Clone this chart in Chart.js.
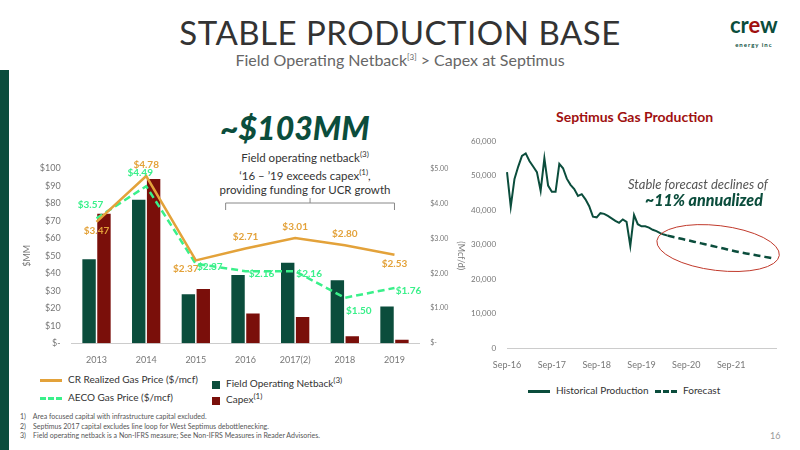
<!DOCTYPE html>
<html>
<head>
<meta charset="utf-8">
<script src="https://cdn.jsdelivr.net/npm/chart.js@4"></script>
<style>
body{margin:0;width:800px;height:450px;background:#fff;font-family:Lato,"Open Sans",sans-serif;position:relative;overflow:hidden}
.abs{position:absolute}
#side{left:0;top:70px;width:9px;height:380px;background:#0b4d3c}
#title{left:0;width:800px;top:12px;text-align:center;font-size:33px;color:#333;letter-spacing:0.5px}
#sub{left:0;width:800px;top:50px;text-align:center;font-size:16px;color:#666}
#sub sup,.leg sup,#note sup{font-size:8px}
#big{left:220px;top:108px;font-size:32px;font-weight:900;color:#0b4d3c;font-style:italic}
#note{left:195px;top:147px;width:220px;text-align:center;font-size:11.5px;color:#333;line-height:14px}
#rtitle{left:556px;top:108px;font-size:14px;font-weight:bold;color:#a01010}
.leg{font-size:10px;color:#333}
.sw{display:inline-block;vertical-align:middle;margin-right:6px}
#foot{left:20px;top:412px;font-size:7px;color:#555;line-height:9.5px}
#pg{left:770px;top:430px;font-size:9px;color:#999}
#logo{left:730px;top:15px;font-size:22px;font-weight:bold;color:#0b4d3c;line-height:20px;text-align:center}
#logo span{display:block;font-size:6px;letter-spacing:1px}
</style>
</head>
<body>
<div id="side" class="abs"></div>
<div id="title" class="abs">STABLE PRODUCTION BASE</div>
<div id="sub" class="abs">Field Operating Netback<sup>[3]</sup> &gt; Capex at Septimus</div>
<div id="logo" class="abs">cr<span style="display:inline;font-size:22px;color:#a01010;letter-spacing:0">e</span>w<span>energy inc</span></div>
<div id="big" class="abs">~$103MM</div>
<div id="note" class="abs">Field operating netback<sup>(3)</sup><br>‘16 – ’19 exceeds capex<sup>(1)</sup>,<br>providing funding for UCR growth</div>
<div id="rtitle" class="abs">Septimus Gas Production</div>
<canvas id="left" class="abs" style="left:18px;top:160px" width="452" height="208"></canvas>
<canvas id="right" class="abs" style="left:468px;top:133px" width="318" height="240"></canvas>
<div class="abs leg" style="left:40px;top:373px"><span class="sw" style="width:22px;height:3px;background:#e3a23a"></span>CR Realized Gas Price ($/mcf)</div>
<div class="abs leg" style="left:40px;top:391px"><span class="sw" style="width:22px;border-top:3px dashed #3af08a"></span>AECO Gas Price ($/mcf)</div>
<div class="abs leg" style="left:212px;top:375px"><span class="sw" style="width:8px;height:8px;background:#0b4d3c"></span>Field Operating Netback<sup>(3)</sup></div>
<div class="abs leg" style="left:212px;top:391px"><span class="sw" style="width:8px;height:8px;background:#7a0f0a"></span>Capex<sup>(1)</sup></div>
<div class="abs leg" style="left:528px;top:384px"><span class="sw" style="width:22px;height:3px;background:#0b4d3c"></span>Historical Production</div>
<div class="abs leg" style="left:655px;top:384px"><span class="sw" style="width:22px;border-top:3px dashed #0b4d3c"></span>Forecast</div>
<div class="abs" style="left:628px;top:176px;font-size:13px;font-style:italic;color:#555">Stable forecast declines of</div>
<div class="abs" style="left:645px;top:190px;font-size:16px;font-style:italic;font-weight:900;color:#0b4d3c">~11% annualized</div>
<div id="foot" class="abs">1)&nbsp;&nbsp;&nbsp;&nbsp;Area focused capital with infrastructure capital excluded.<br>2)&nbsp;&nbsp;&nbsp;&nbsp;Septimus 2017 capital excludes line loop for West Septimus debottlenecking.<br>3)&nbsp;&nbsp;&nbsp;&nbsp;Field operating netback is a Non-IFRS measure; See Non-IFRS Measures in Reader Advisories.</div>
<div id="pg" class="abs">16</div>
<script>
var years = ["2013", "2014", "2015", "2016", "2017(2)", "2018", "2019"];
var netback = [48, 82, 28, 39, 46, 36, 21];
var capex = [74, 94, 31, 17, 15, 4, 2];
var crPrice = [3.47, 4.78, 2.37, 2.71, 3.01, 2.80, 2.53];
var aecoPrice = [3.57, 4.49, 2.27, 2.06, 2.06, 1.30, 1.58];
var aecoLabels = ["$3.57", "$4.49", "$2.37", "$2.16", "$2.16", "$1.50", "$1.76"];

var months = [];
var mn = ["Jan","Feb","Mar","Apr","May","Jun","Jul","Aug","Sep","Oct","Nov","Dec"];
for (var i = 0; i < 73; i++) {
  var m = (8 + i) % 12, y = 16 + Math.floor((8 + i) / 12);
  months.push(mn[m] + "-" + y);
}
var historical = [51000, 41000, 49000, 52600, 55700, 56400, 54200, 52600, 51000, 45600, 55000, 47100,
  45300, 45300, 53400, 52100, 49100, 47300, 46100, 44100, 44600, 43100, 41100, 38100,
  37900, 39100, 38900, 38300, 37600, 36900, 36300, 37300, 36600, 29600, 38600, 35900,
  35300, 35300, 34900, 34300, 33900, 33300, 32900, 32600];
var forecast = [32600, 32350, 32100, 31850, 31600, 31350, 31100, 30850, 30600, 30350, 30100, 29850,
  29600, 29350, 29100, 28850, 28600, 28350, 28100, 27850, 27650, 27450, 27250, 27050,
  26850, 26650, 26450, 26250, 26050];

var font = {family: "Lato", size: 9};
var grey = "#777";

var labelPlugin = {
  id: "lbls",
  afterDatasetsDraw: function (chart) {
    var c = chart.ctx;
    c.save();
    c.font = "bold 10px Lato";
    c.textAlign = "center";
    var m0 = chart.getDatasetMeta(0), m1 = chart.getDatasetMeta(1);
    m0.data.forEach(function (p, i) {
      c.fillStyle = "#e3a23a";
      var dy = (i == 0 || i == 2 || i == 6) ? 12 : -8;
      var dx = i == 2 ? -10 : 0;
      c.fillText("$" + crPrice[i].toFixed(2), p.x + dx, p.y + dy);
    });
    m1.data.forEach(function (p, i) {
      c.fillStyle = "#3af08a";
      var dy = (i == 0 || i == 1) ? -10 : (i == 5 ? 16 : 6);
      var dx = (i == 0 || i == 1) ? -6 : 14;
      if (i == 3) dx = 16;
      c.fillText(aecoLabels[i], p.x + dx, p.y + dy);
    });
    // bracket
    var x = chart.scales.x, yy = 43;
    c.strokeStyle = "#888"; c.lineWidth = 1;
    c.beginPath();
    c.moveTo(x.getPixelForValue(2.6), yy + 7); c.lineTo(x.getPixelForValue(2.6), yy);
    c.lineTo(x.getPixelForValue(6.0), yy); c.lineTo(x.getPixelForValue(6.0), yy + 7);
    var mid = (x.getPixelForValue(2.6) + x.getPixelForValue(6.0)) / 2;
    c.moveTo(mid, yy); c.lineTo(mid, yy - 5);
    c.stroke();
    c.restore();
  }
};

new Chart(document.getElementById("left"), {
  type: "bar",
  data: {
    labels: years,
    datasets: [
      {type: "line", label: "CR Realized Gas Price ($/mcf)", data: crPrice, yAxisID: "y1",
        borderColor: "#e3a23a", borderWidth: 2.5, pointRadius: 0, tension: 0},
      {type: "line", label: "AECO Gas Price ($/mcf)", data: aecoPrice, yAxisID: "y1",
        borderColor: "#3af08a", borderWidth: 2.5, borderDash: [7, 4], pointRadius: 0, tension: 0},
      {label: "Field Operating Netback", data: netback, backgroundColor: "#0b4d3c",
        categoryPercentage: 0.6, barPercentage: 0.9},
      {label: "Capex", data: capex, backgroundColor: "#7a0f0a",
        categoryPercentage: 0.6, barPercentage: 0.9}
    ]
  },
  options: {
    responsive: false, animation: false,
    layout: {padding: {top: 8}},
    plugins: {legend: {display: false}, tooltip: {enabled: false}},
    scales: {
      x: {grid: {display: false}, border: {color: "#ccc"}, ticks: {color: grey, font: font}},
      y: {min: 0, max: 100, grid: {display: false}, border: {display: false},
        title: {display: true, text: "$MM", color: grey, font: font},
        ticks: {stepSize: 10, color: grey, font: font, callback: function (v) { return v == 0 ? "$-" : "$" + v; }}},
      y1: {position: "right", min: 0, max: 5, grid: {display: false}, border: {display: false},
        title: {display: true, text: "(Mcf/d)", color: grey, font: font},
        ticks: {stepSize: 1, color: grey, font: {family: "Lato", size: 7}, callback: function (v) { return v == 0 ? "$-" : "$" + v.toFixed(2); }}}
    }
  },
  plugins: [labelPlugin]
});

var ellipsePlugin = {
  id: "ell",
  afterDatasetsDraw: function (chart) {
    var c = chart.ctx, x = chart.scales.x, y = chart.scales.y;
    var x0 = x.getPixelForValue(40), x1 = x.getPixelForValue(73);
    var y0 = y.getPixelForValue(35500), y1 = y.getPixelForValue(22500);
    c.save();
    c.strokeStyle = "#c0392b"; c.lineWidth = 1;
    c.beginPath();
    c.ellipse((x0 + x1) / 2, (y0 + y1) / 2, (x1 - x0) / 2, (y1 - y0) / 2, 0.12, 0, Math.PI * 2);
    c.stroke();
    c.restore();
  }
};

var fc = new Array(43).fill(null).concat(forecast);
new Chart(document.getElementById("right"), {
  type: "line",
  data: {
    labels: months,
    datasets: [
      {label: "Historical Production", data: historical, borderColor: "#0b4d3c", borderWidth: 2, pointRadius: 0, tension: 0},
      {label: "Forecast", data: fc, borderColor: "#0b4d3c", borderWidth: 2.5, borderDash: [7, 4], pointRadius: 0, tension: 0}
    ]
  },
  options: {
    responsive: false, animation: false,
    layout: {padding: {top: 8, right: 10}},
    plugins: {legend: {display: false}, tooltip: {enabled: false}},
    scales: {
      x: {grid: {display: false}, border: {color: "#ccc"},
        ticks: {autoSkip: false, maxRotation: 0, color: grey, font: font,
          callback: function (v, i) { return i % 12 == 0 && i < 70 ? months[i] : null; }}},
      y: {min: 0, max: 60000, grid: {display: false}, border: {display: false},
        ticks: {stepSize: 10000, color: grey, font: {family: "Lato", size: 8},
          callback: function (v) { return v.toLocaleString("en-US"); }}}
    }
  },
  plugins: [ellipsePlugin]
});
</script>
</body>
</html>
